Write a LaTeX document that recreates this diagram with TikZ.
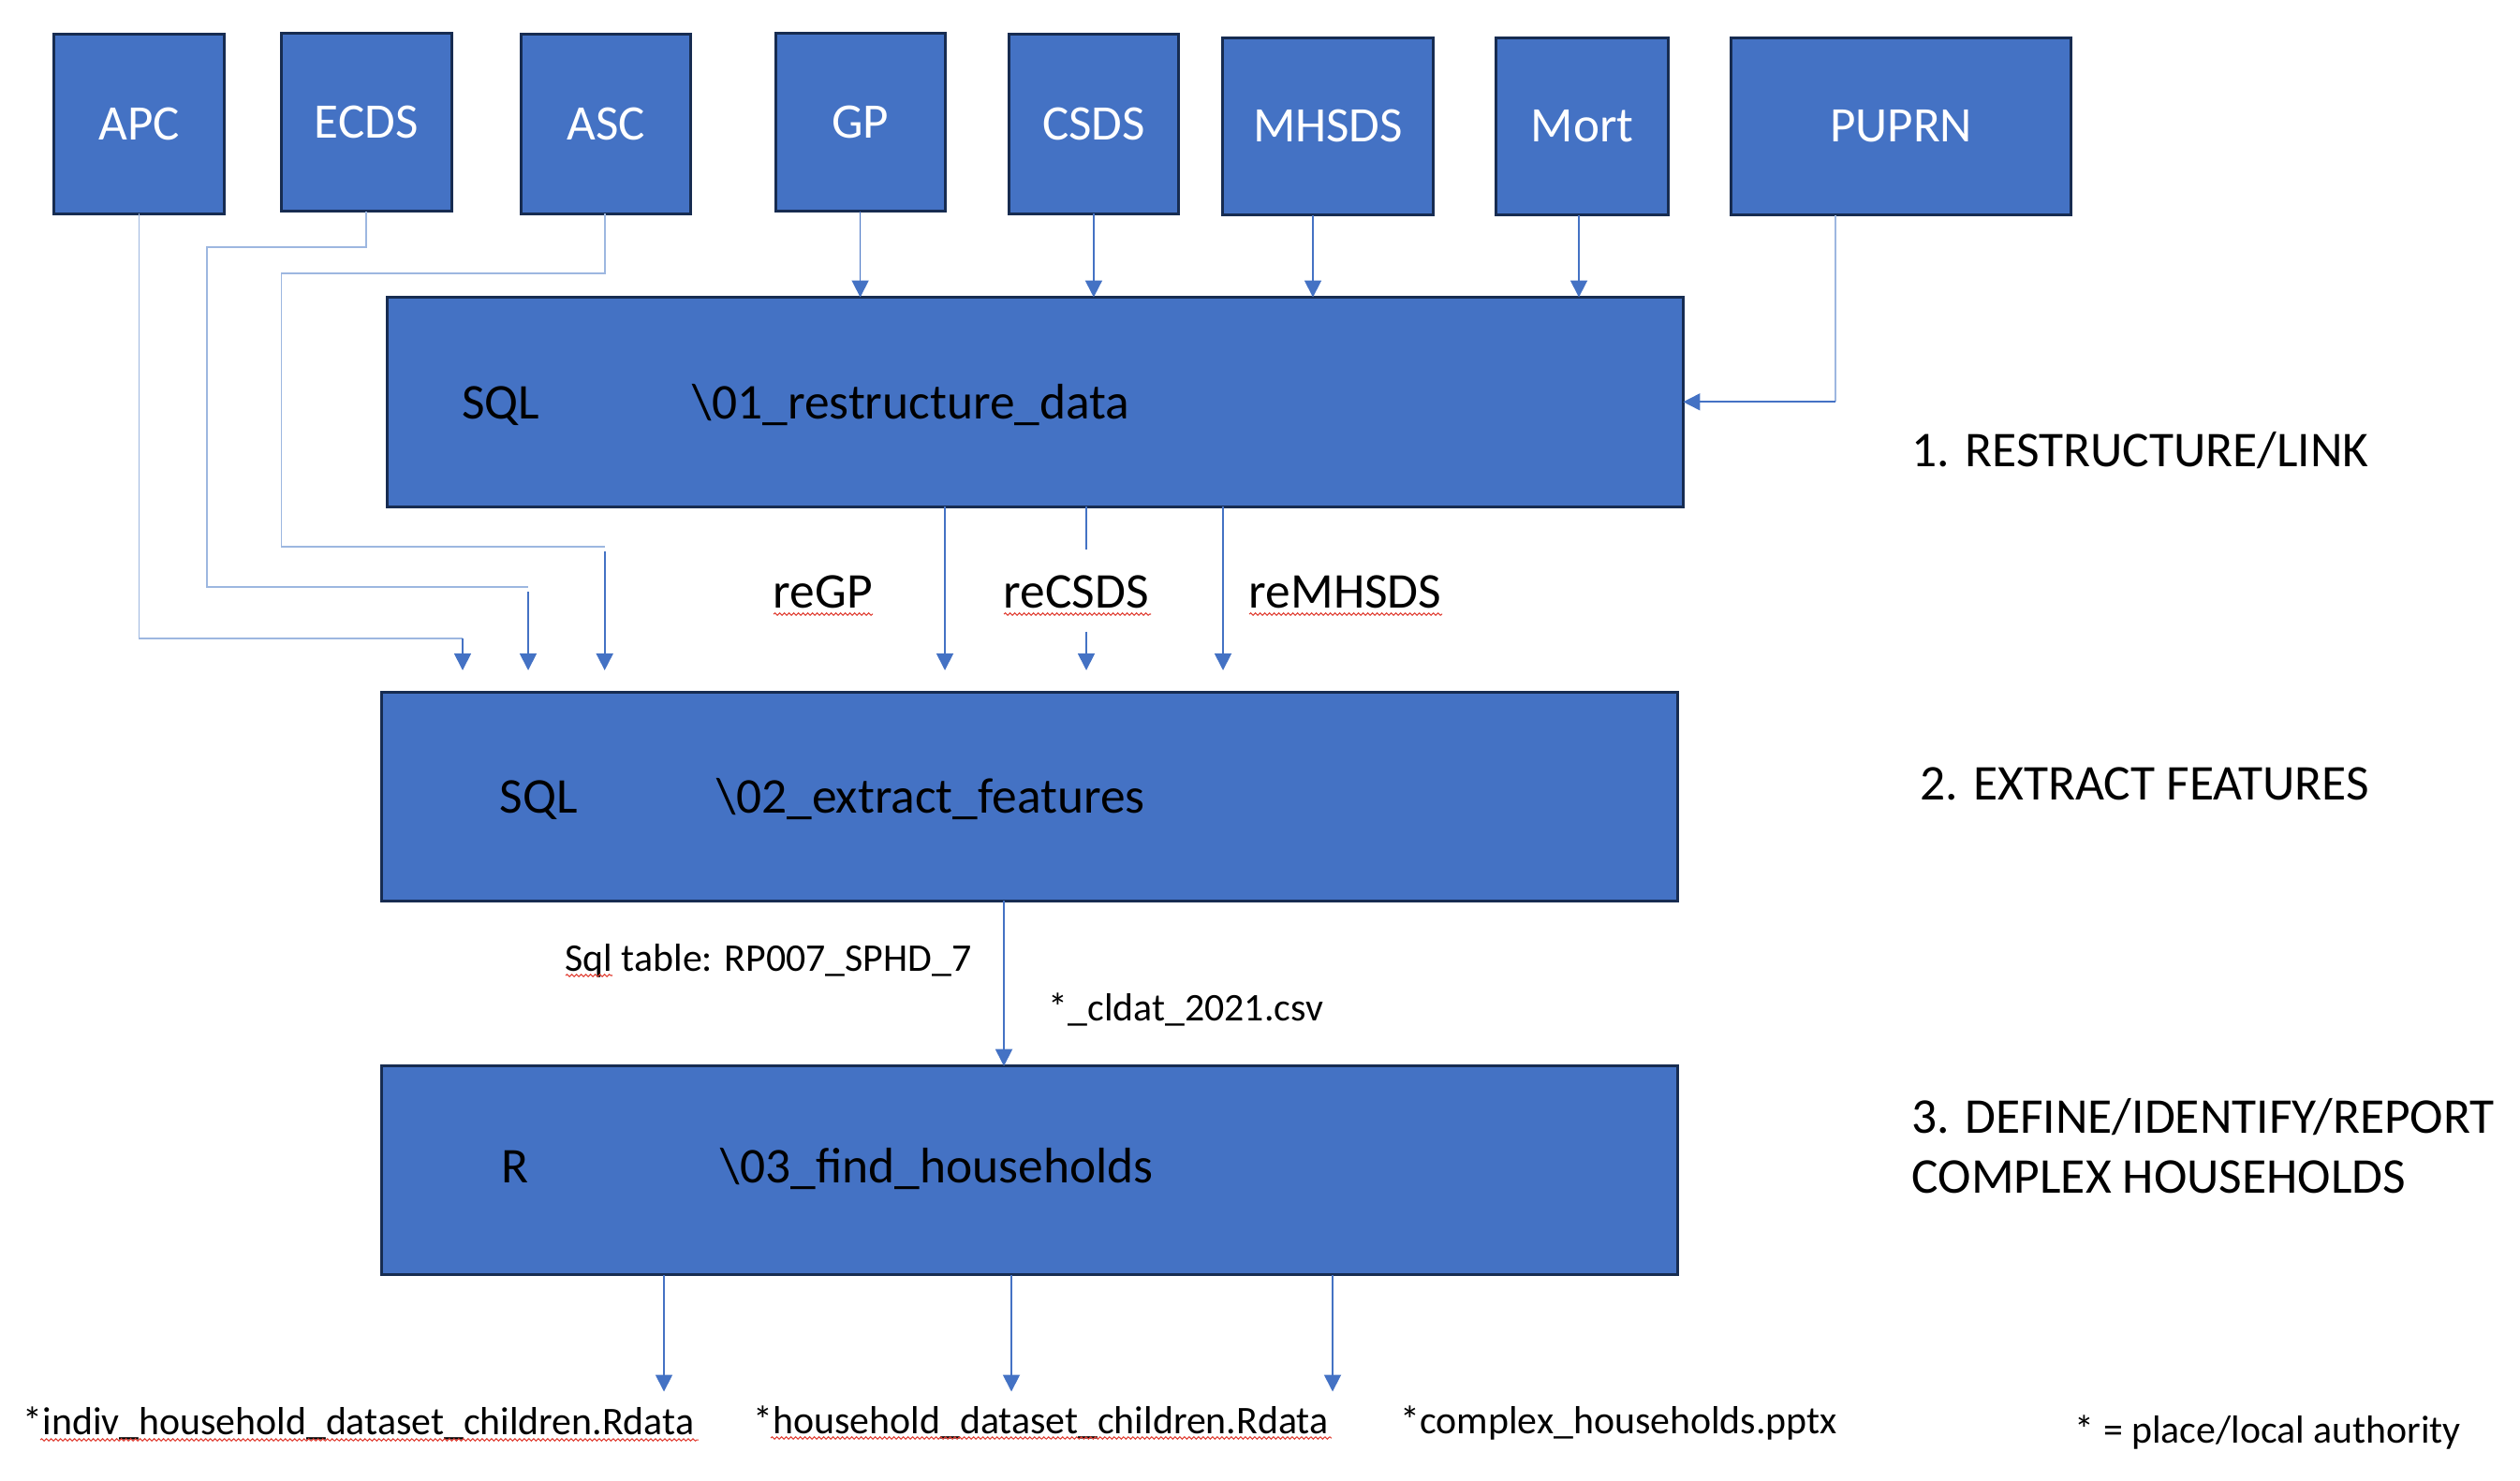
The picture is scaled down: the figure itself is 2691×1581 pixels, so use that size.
\documentclass[tikz,border=0pt]{standalone}
\usepackage{fontspec}
\setmainfont{Carlito}
\usetikzlibrary{arrows.meta,decorations.pathmorphing,calc}
\definecolor{boxfill}{HTML}{4472C4}
\definecolor{boxedge}{HTML}{172C51}
\definecolor{lightline}{HTML}{9DB7E0}
\definecolor{darkline}{HTML}{4472C4}
\definecolor{spell}{HTML}{E03C31}
\begin{document}
\begin{tikzpicture}[x=0.01cm,y=-0.01cm,
  srcbox/.style={draw=boxedge, fill=boxfill, line width=0.85pt, text=white, font=\fontsize{15.1}{18}\selectfont, inner sep=0pt, outer sep=0pt},
  stagebox/.style={draw=boxedge, fill=boxfill, line width=0.85pt, inner sep=0pt, outer sep=0pt, minimum width=13.835cm, minimum height=2.225cm},
  bigtext/.style={font=\fontsize{15.2}{18}\selectfont, anchor=base west, inner sep=0pt},
  smalltext/.style={font=\fontsize{11.9}{14}\selectfont, anchor=base west, inner sep=0pt},
  arr/.style={draw=darkline, line width=0.5pt, -{Triangle[length=0.18cm,width=0.18cm]}},
  plain/.style={draw=darkline, line width=0.5pt},
  faint/.style={draw=lightline, line width=0.5pt},
  squiggle/.style={draw=spell, line width=0.3pt, decorate, decoration={snake, amplitude=0.012cm, segment length=0.05cm}},
]
\useasboundingbox (0,0) rectangle (2691,1581);

% source boxes
\node[srcbox, minimum width=1.816cm, minimum height=1.914cm] (APC)  at (148.5,132.5) {APC};
\node[srcbox, minimum width=1.816cm, minimum height=1.904cm] (ECDS) at (391.3,130.6) {ECDS};
\node[srcbox, minimum width=1.816cm, minimum height=1.914cm] (ASC)  at (647,132.5) {ASC};
\node[srcbox, minimum width=1.808cm, minimum height=1.904cm] (GP)   at (918.6,130.6) {GP};
\node[srcbox, minimum width=1.817cm, minimum height=1.914cm] (CSDS) at (1167.9,132.5) {CSDS};
\node[srcbox, minimum width=2.24cm, minimum height=1.894cm] (MHSDS) at (1418,134.9) {MHSDS};
\node[srcbox, minimum width=1.83cm, minimum height=1.894cm] (Mort) at (1689.5,134.9) {Mort};
\node[srcbox, minimum width=3.62cm, minimum height=1.894cm] (PUPRN) at (2030,134.9) {PUPRN};

% stage boxes
\node[stagebox, minimum width=13.83cm, minimum height=2.234cm] (box1) at (1105.5,429.3) {};
\node[stagebox] (box2) at (1099.75,851) {};
\node[stagebox, minimum height=2.23cm] (box3) at (1099.75,1250.3) {};

% texts in stage boxes
\node[bigtext] (sql1) at (492.5,447) {SQL};
\node[bigtext] (step1) at (739,447) {\textbackslash 01\_restructure\_data};
\node[bigtext] (sql2) at (533,868.5) {SQL};
\node[bigtext] (step2) at (765,868.5) {\textbackslash 02\_extract\_features};
\node[bigtext] (lang3) at (535,1263.5) {R};
\node[bigtext] (step3) at (769,1263.5) {\textbackslash 03\_find\_households};

% stage labels on the right
\node[bigtext] (lab1) at (2041,498.5) {1. RESTRUCTURE/LINK};
\node[bigtext] (lab2) at (2050,854.5) {2. EXTRACT FEATURES};
\node[bigtext] (lab3a) at (2041,1210) {3. DEFINE/IDENTIFY/REPORT};
\node[bigtext] (lab3b) at (2041,1274) {COMPLEX HOUSEHOLDS};

% connector labels
\node[bigtext] (tGP) at (825,649) {reGP};
\node[bigtext] (tCSDS) at (1071,649) {reCSDS};
\node[bigtext] (tMHSDS) at (1333,649) {reMHSDS};
\node[smalltext] (tsql) at (603,1037) {Sql table: RP007\_SPHD\_7};
\node[smalltext] (tcsv) at (1119,1090) {*\_cldat\_2021.csv};
\node[smalltext] (out1) at (24,1532) {*indiv\_household\_dataset\_children.Rdata};
\node[smalltext] (out2) at (804,1531) {*household\_dataset\_children.Rdata};
\node[smalltext] (out3) at (1495,1531) {*complex\_households.pptx};
\node[smalltext] (note) at (2215,1541) {* = place/local authority};

% spelling marks
\draw[squiggle] (826,656) -- (932,656);
\draw[squiggle] (1072,656) -- (1229,656);
\draw[squiggle] (1334,656) -- (1540,656);
\draw[squiggle] (604,1042) -- (654,1042);
\draw[squiggle] (43,1538) -- (746,1538);
\draw[squiggle] (823,1536) -- (1422,1536);

% coordinates for free ends
\coordinate (apcturn) at (494,681.7);
\coordinate (apctip) at (494,716);
\coordinate (ecdsturn) at (564,626.7);
\coordinate (ecdsstart) at (564,632);
\coordinate (ecdstip) at (564,716);
\coordinate (ascturn) at (645.7,583.7);
\coordinate (ascstart) at (645.7,589);
\coordinate (asctip) at (645.7,716);
\coordinate (pupturn) at (1960,429.3);
\coordinate (gpout) at (1009,716);
\coordinate (csdsbreak) at (1160,586.6);
\coordinate (csdsresume) at (1160,674.6);
\coordinate (csdsout) at (1160,716);
\coordinate (mhsdsout) at (1306,716);
\coordinate (midx) at (1072,0);
\coordinate (res1) at (709,1486.5);
\coordinate (res2) at (1080,1486.5);
\coordinate (res3) at (1423,1486.5);

% APC / ECDS / ASC bypass to stage 2
\draw[faint] (APC.south) |- (apcturn);
\draw[arr] (apcturn) -- (apctip);
\draw[faint] (ECDS.south) |- (221,263.7) |- (ecdsturn);
\draw[arr] (ecdsstart) -- (ecdstip);
\draw[faint] ([xshift=-0.013cm]ASC.south) |- (300.5,291.7) |- (ascturn);
\draw[arr] (ascstart) -- (asctip);

% sources into stage 1
\draw[arr] (GP.south) -- (GP.south |- box1.north);
\draw[arr] (CSDS.south) -- (CSDS.south |- box1.north);
\draw[arr] ([xshift=-0.16cm]MHSDS.south) -- ([xshift=-0.16cm]MHSDS.south |- box1.north);
\draw[arr] ([xshift=-0.035cm]Mort.south) -- ([xshift=-0.035cm]Mort.south |- box1.north);
\draw[faint] (PUPRN.south -| pupturn) -- (pupturn);
\draw[arr] (pupturn) -- (box1.east |- pupturn);

% stage 1 to stage 2
\draw[arr] (box1.south -| gpout) -- (gpout);
\draw[plain] (box1.south -| csdsbreak) -- (csdsbreak);
\draw[arr] (csdsresume) -- (csdsout);
\draw[arr] (box1.south -| mhsdsout) -- (mhsdsout);

% stage 2 to stage 3
\draw[arr] (box2.south -| midx) -- (box3.north -| midx);

% stage 3 outputs
\draw[arr] (box3.south -| res1) -- (res1);
\draw[arr] (box3.south -| res2) -- (res2);
\draw[arr] (box3.south -| res3) -- (res3);
\end{tikzpicture}
\end{document}
